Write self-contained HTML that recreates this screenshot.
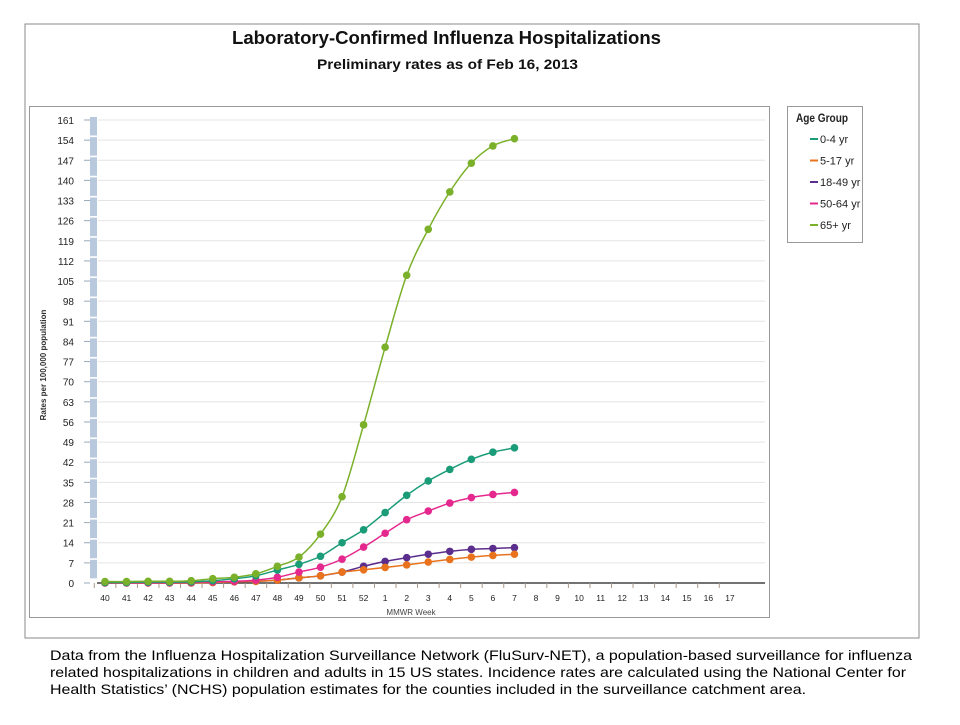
<!DOCTYPE html><html><head><meta charset="utf-8"><style>body{margin:0;background:#fff;width:960px;height:720px;overflow:hidden;font-family:"Liberation Sans",sans-serif}</style></head><body>
<svg id="s" width="960" height="720" xmlns="http://www.w3.org/2000/svg" font-family="Liberation Sans, sans-serif">
<rect x="25" y="24" width="894" height="614" fill="#fff" stroke="#888" stroke-width="1"/>
<text x="232" y="44" textLength="429" lengthAdjust="spacingAndGlyphs" font-size="18" font-weight="bold" fill="#111">Laboratory-Confirmed Influenza Hospitalizations</text>
<text x="317" y="69" textLength="261" lengthAdjust="spacingAndGlyphs" font-size="14" font-weight="bold" fill="#111">Preliminary rates as of Feb 16, 2013</text>
<rect x="29.5" y="106.5" width="740" height="511" fill="#fff" stroke="#999" stroke-width="1"/>
<rect x="787.5" y="106.5" width="75" height="136" fill="#fff" stroke="#999"/>
<text x="796" y="122" font-size="12" font-weight="bold" fill="#222" textLength="52" lengthAdjust="spacingAndGlyphs">Age Group</text>
<g id="g"></g>
<text x="46" y="365" transform="rotate(-90 46 365)" text-anchor="middle" font-size="8" font-weight="bold" fill="#333">Rates per 100,000 population</text>
<text x="411" y="615" text-anchor="middle" font-size="8" fill="#444">MMWR Week</text>
<text x="50" y="660" font-size="14" fill="#000" textLength="862" lengthAdjust="spacingAndGlyphs">Data from the Influenza Hospitalization Surveillance Network (FluSurv-NET), a population-based surveillance for influenza</text>
<text x="50" y="677" font-size="14" fill="#000" textLength="856" lengthAdjust="spacingAndGlyphs">related hospitalizations in children and adults in 15 US states.  Incidence rates are calculated using the National Center for</text>
<text x="50" y="694" font-size="14" fill="#000" textLength="756" lengthAdjust="spacingAndGlyphs">Health Statistics’ (NCHS) population estimates for the counties included in the surveillance catchment area.</text>
</svg>
<script>
var g=document.getElementById('g'),h='';
function Y(v){return 583-v/7*20.13}
function X(i){return 105+i*21.55}
for(var k=0;k<=23;k++){var y=Y(k*7);if(k>0)h+='<line x1="98" x2="765" y1="'+y+'" y2="'+y+'" stroke="#e4e4e4"/>';h+='<line x1="84" x2="90" y1="'+y+'" y2="'+y+'" stroke="#9ab"/><text x="74" y="'+(y+4)+'" text-anchor="end" font-size="10" fill="#222">'+(k*7)+'</text>';}
for(var y=117;y<575;y+=20.13)h+='<rect x="90" y="'+y+'" width="7" height="'+Math.min(18.5,583-y)+'" fill="#b8c9de"/>';
h+='<line x1="97" x2="765" y1="583" y2="583" stroke="#444" stroke-width="1.5"/>';
var wk=[40,41,42,43,44,45,46,47,48,49,50,51,52,1,2,3,4,5,6,7,8,9,10,11,12,13,14,15,16,17];
for(var i=0;i<30;i++){h+='<line x1="'+(X(i)-10.7)+'" x2="'+(X(i)-10.7)+'" y1="583" y2="588" stroke="#a98"/><text x="'+X(i)+'" y="601" text-anchor="middle" font-size="8.5" fill="#222">'+wk[i]+'</text>';}
var S=[
['#5b2d8c',[0,0,0,0,0,0.2,0.4,0.6,1,1.8,2.5,3.8,5.8,7.5,8.8,10,11,11.7,12,12.3]],
['#e8731c',[0,0,0,0,0,0.2,0.4,0.6,1,1.8,2.5,3.8,4.6,5.4,6.3,7.3,8.2,9,9.6,10]],
['#e5288e',[0.1,0.1,0.1,0.1,0.2,0.4,0.6,1,2,3.8,5.5,8.3,12.5,17.3,22,25,27.8,29.7,30.8,31.5]],
['#1a9c78',[0.2,0.2,0.3,0.3,0.4,0.8,1.5,2.5,4.5,6.5,9.3,14,18.5,24.5,30.5,35.5,39.5,43,45.5,47]],
['#7ab02a',[0.5,0.5,0.6,0.6,0.8,1.5,2,3.2,5.8,9,17,30,55,82,107,123,136,146,152,154.5]]];
function path(P){var d='M'+P[0][0]+','+P[0][1];for(var i=0;i<P.length-1;i++){var p0=P[i-1]||P[i],p1=P[i],p2=P[i+1],p3=P[i+2]||p2,t=6;d+=' C'+(p1[0]+(p2[0]-p0[0])/t)+','+(p1[1]+(p2[1]-p0[1])/t)+' '+(p2[0]-(p3[0]-p1[0])/t)+','+(p2[1]-(p3[1]-p1[1])/t)+' '+p2[0]+','+p2[1];}return d}
S.forEach(function(s){var P=s[1].map(function(v,i){return [X(i),Y(v)]});h+='<path d="'+path(P)+'" fill="none" stroke="'+s[0]+'" stroke-width="1.5"/>';P.forEach(function(p){h+='<circle cx="'+p[0]+'" cy="'+p[1]+'" r="3.8" fill="'+s[0]+'"/>'})});
var L=[['#1a9c78','0-4 yr'],['#e8731c','5-17 yr'],['#5b2d8c','18-49 yr'],['#e5288e','50-64 yr'],['#7ab02a','65+ yr']];
L.forEach(function(l,i){var y=139+i*21.5;h+='<line x1="810" x2="818" y1="'+y+'" y2="'+y+'" stroke="'+l[0]+'" stroke-width="2"/><text x="820" y="'+(y+4)+'" font-size="11" fill="#222">'+l[1]+'</text>'});
g.innerHTML=h;
</script>
</body></html>
